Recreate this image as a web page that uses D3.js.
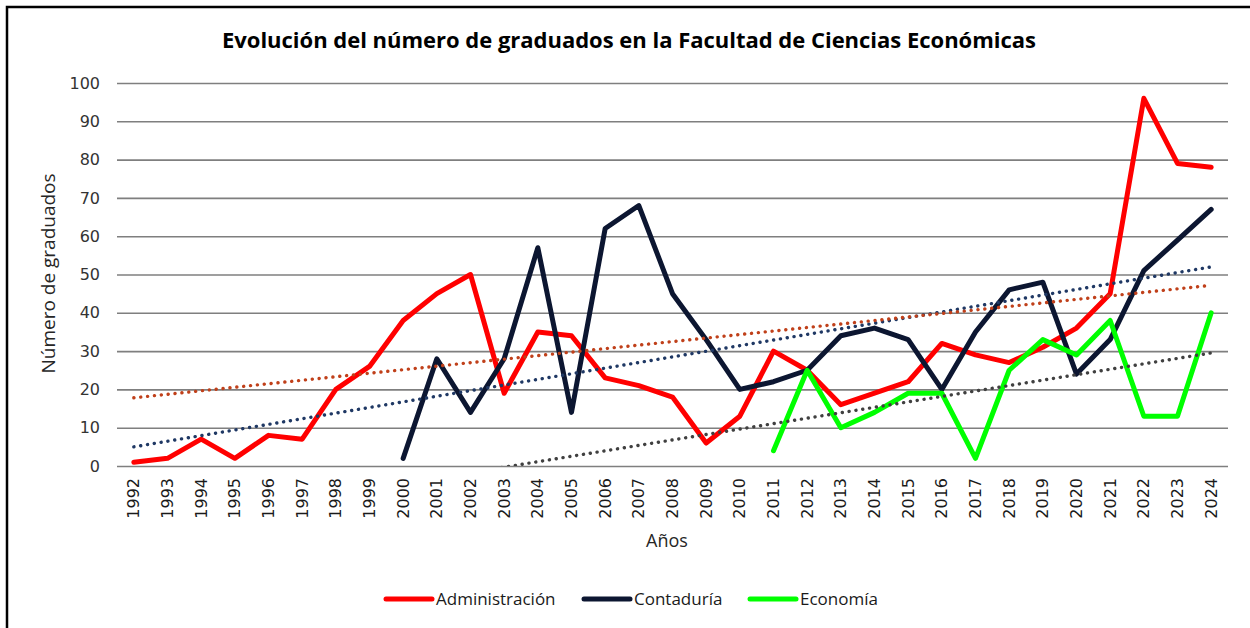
<!DOCTYPE html>
<html>
<head>
<meta charset="utf-8">
<script src="https://d3js.org/d3.v7.min.js"></script>
<style>
  body { margin: 0; background: #fff; }
  svg { display: block; }
</style>
</head>
<body>
<svg id="chart" width="1250" height="628"></svg>
<script>
// data
const years = d3.range(1992, 2025).map(String);
const administracion = [1, 2, 7, 2, 8, 7, 20, 26, 38, 45, 50, 19, 35, 34, 23, 21, 18, 6, 13, 30, 25, 16, 19, 22, 32, 29, 27, 31, 36, 45, 96, 79, 78];
const contaduria = [null, null, null, null, null, null, null, null, 2, 28, 14, 28, 57, 14, 62, 68, 45, 33, 20, 22, 25, 34, 36, 33, 20, 35, 46, 48, 24, 33, 51, 59, 67];
const economia = [null, null, null, null, null, null, null, null, null, null, null, null, null, null, null, null, null, null, null, 4, 25, 10, 14, 19, 19, 2, 25, 33, 29, 38, 13, 13, 40];
const yTicks = [0, 10, 20, 30, 40, 50, 60, 70, 80, 90, 100];

const series = [
  { name: "Administración", values: administracion, color: "#ff0000", trend: "#1f3864" },
  { name: "Contaduría", values: contaduria, color: "#0c1631", trend: "#c0401a" },
  { name: "Economía", values: economia, color: "#00ff00", trend: "#404040" }
];

const svg = d3.select("svg#chart");
const plot = { left: 117, right: 1228, top: 83, bottom: 466 };

// frame of the original picture (only top and left edges visible)
svg.append("rect")
  .attr("x", 7).attr("y", 7)
  .attr("width", 1400).attr("height", 800)
  .attr("fill", "none").attr("stroke", "#000").attr("stroke-width", 2.5);

svg.append("text")
  .attr("x", 629).attr("y", 48)
  .attr("text-anchor", "middle")
  .attr("textLength", 814)
  .style("font-family", "'Open Sans', sans-serif")
  .style("font-weight", "bold")
  .style("font-size", "22px")
  .attr("fill", "#000")
  .text("Evolución del número de graduados en la Facultad de Ciencias Económicas");

const x = d3.scaleBand().domain(years).range([plot.left, plot.right]).padding(0);
const y = d3.scaleLinear().domain([0, 100]).range([plot.bottom, plot.top]);
const cx = i => x(years[i]) + x.bandwidth() / 2;

// gridlines + y labels
const yAxis = svg.append("g")
  .attr("transform", `translate(${plot.left},0)`)
  .call(d3.axisLeft(y).tickValues(yTicks).tickSize(-(plot.right - plot.left)).tickPadding(17));
yAxis.select(".domain").remove();
yAxis.selectAll(".tick line").attr("stroke", "#7f7f7f").attr("stroke-width", 1.6);
yAxis.selectAll(".tick text")
  .style("font-family", "'DejaVu Sans', sans-serif")
  .style("font-size", "16px")
  .attr("fill", "#333");

// x labels
const xAxis = svg.append("g")
  .attr("transform", `translate(0,${plot.bottom})`)
  .call(d3.axisBottom(x).tickSize(0));
xAxis.select(".domain").remove();
xAxis.selectAll(".tick text")
  .attr("transform", "rotate(-90)")
  .attr("x", -12).attr("y", 0).attr("dy", "0.35em")
  .attr("text-anchor", "end")
  .style("font-family", "'DejaVu Sans', sans-serif")
  .style("font-size", "16px")
  .attr("fill", "#1a1a1a");

svg.append("text")
  .attr("x", 667).attr("y", 547)
  .attr("text-anchor", "middle")
  .style("font-family", "'Open Sans', sans-serif")
  .style("font-size", "18px")
  .attr("fill", "#262626")
  .text("Años");

svg.append("text")
  .attr("transform", `translate(55,${(plot.top + plot.bottom) / 2 - 1}) rotate(-90)`)
  .attr("text-anchor", "middle")
  .style("font-family", "'Open Sans', sans-serif")
  .style("font-size", "19px")
  .attr("fill", "#262626")
  .text("Número de graduados");

svg.append("clipPath").attr("id", "plotclip")
  .append("rect")
  .attr("x", plot.left).attr("y", plot.top)
  .attr("width", plot.right - plot.left).attr("height", plot.bottom - plot.top);

const line = d3.line()
  .defined(d => d != null)
  .x((d, i) => cx(i))
  .y(d => y(d));

const lines = svg.append("g");
series.forEach(s => {
  lines.append("path")
    .datum(s.values)
    .attr("d", line)
    .attr("fill", "none")
    .attr("stroke", s.color)
    .attr("stroke-width", 5)
    .attr("stroke-linejoin", "round")
    .attr("stroke-linecap", "round");
});

// linear trendlines (least squares on category index), spread over all years
function fit(values) {
  const pts = values.map((v, i) => [i, v]).filter(p => p[1] != null);
  const mx = d3.mean(pts, p => p[0]);
  const my = d3.mean(pts, p => p[1]);
  const sxy = d3.sum(pts, p => (p[0] - mx) * (p[1] - my));
  const sxx = d3.sum(pts, p => (p[0] - mx) * (p[0] - mx));
  const b = sxy / sxx;
  return i => my + b * (i - mx);
}

const trends = svg.append("g").attr("clip-path", "url(#plotclip)");
series.forEach(s => {
  const f = fit(s.values);
  const ends = [0, years.length - 1];
  trends.append("path")
    .datum(ends)
    .attr("d", d3.line().x(i => cx(i)).y(i => y(f(i))))
    .attr("fill", "none")
    .attr("stroke", s.trend)
    .attr("stroke-width", 3.4)
    .attr("stroke-dasharray", "0.1 6.8")
    .attr("stroke-linecap", "round");
});

// legend
const legendX = [386, 584, 750];
const legend = svg.append("g");
series.forEach((s, i) => {
  const g = legend.append("g").attr("transform", `translate(${legendX[i]},599)`);
  g.append("line")
    .attr("x1", 0).attr("x2", 46).attr("y1", 0).attr("y2", 0)
    .attr("stroke", s.color).attr("stroke-width", 5).attr("stroke-linecap", "round");
  g.append("text")
    .attr("x", 50).attr("y", 0).attr("dy", "0.35em")
    .style("font-family", "'Open Sans', sans-serif")
    .style("font-size", "17px")
    .attr("fill", "#1a1a1a")
    .text(s.name);
});
</script>
</body>
</html>
